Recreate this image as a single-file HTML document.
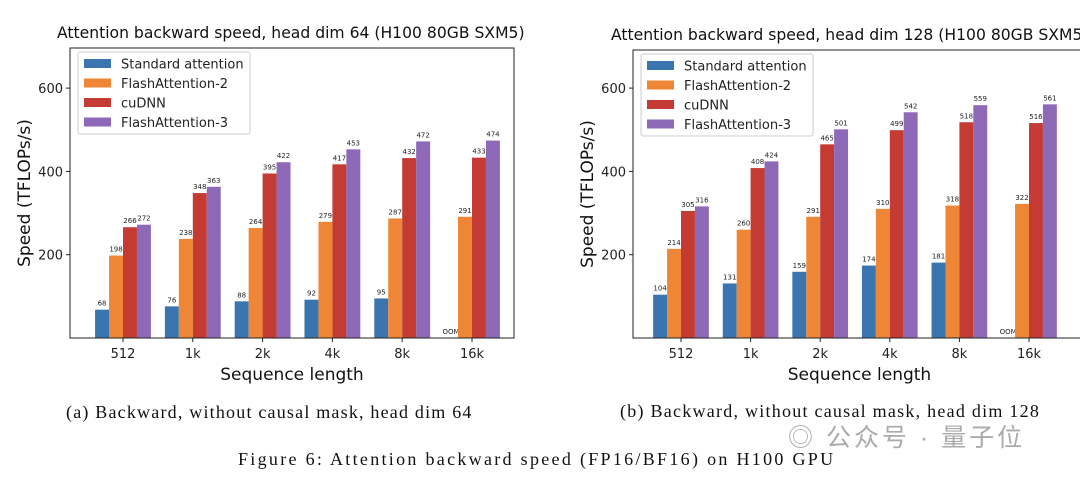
<!DOCTYPE html>
<html><head><meta charset="utf-8"><style>
body{margin:0;background:#fff;width:1080px;height:478px;overflow:hidden;font-family:"DejaVu Sans","Liberation Sans",sans-serif}
svg{position:absolute;left:0;top:0}
.cap{position:absolute;font-family:"Liberation Serif",serif;font-size:18px;color:#111;white-space:nowrap}
</style></head><body>
<svg id="chart" width="1080" height="478"></svg>
<div class="cap" style="left:66px;top:402px;letter-spacing:1.2px">(a) Backward, without causal mask, head dim 64</div>
<div class="cap" style="left:620px;top:401px;letter-spacing:1.25px">(b) Backward, without causal mask, head dim 128</div>
<div class="cap" style="left:238px;top:449px;letter-spacing:2.3px">Figure 6: Attention backward speed (FP16/BF16) on H100 GPU</div>
<div style="position:absolute;left:788px;top:418px;font-family:'Liberation Sans','Noto Sans CJK SC',sans-serif;font-size:25px;letter-spacing:3px;color:#aaa">◎ 公众号 · 量子位</div>
<script>
const categories=["512","1k","2k","4k","8k","16k"];
const seriesNames=["Standard attention","FlashAttention-2","cuDNN","FlashAttention-3"];
const colors=["#3a75af","#ef8636","#c43b33","#8d69b8"];
const std64=[68,76,88,92,95,null];
const fa2_64=[198,238,264,279,287,291];
const cudnn64=[266,348,395,417,432,433];
const fa3_64=[272,363,422,453,472,474];
const std128=[104,131,159,174,181,null];
const fa2_128=[214,260,291,310,318,322];
const cudnn128=[305,408,465,499,518,516];
const fa3_128=[316,424,501,542,559,561];
const yTicks=[200,400,600];
const NS="http://www.w3.org/2000/svg";
const svg=document.getElementById('chart');
function mk(tag,attrs,parent){const e=document.createElementNS(NS,tag);for(const k in attrs)e.setAttribute(k,attrs[k]);(parent||svg).appendChild(e);return e;}
function panel(cfg){
  const g=mk('g',{});
  
  
  const y=v=>cfg.bottom-(v/200)*cfg.pxPer200;
  const cx=i=>cfg.firstCenter+i*cfg.spacing;
  const bw=cfg.spacing*0.2;
  cfg.data.forEach((arr,s)=>{
    arr.forEach((v,i)=>{
      const x=cx(i)-2*bw+s*bw;
      if(v===null){
        const t=mk('text',{x:x+bw/2,y:cfg.bottom-4,'font-size':7,'text-anchor':'middle',fill:'#222'},g);t.textContent='OOM';
        
        return;}
      const r=mk('rect',{x:x,y:y(v),width:bw,height:cfg.bottom-y(v),fill:colors[s]},g);
      
      
      const t=mk('text',{x:x+bw/2,y:y(v)-4,'font-size':7,'text-anchor':'middle',fill:'#222'},g);t.textContent=v;
      
    });
  });
  const box=mk('rect',{x:cfg.left,y:cfg.top,width:cfg.right-cfg.left,height:cfg.bottom-cfg.top,fill:'none',stroke:'#222','stroke-width':1},g);
  
  yTicks.forEach(v=>{
    mk('line',{x1:cfg.left-4,x2:cfg.left,y1:y(v),y2:y(v),stroke:'#222'},g);
    const t=mk('text',{x:cfg.left-7,y:y(v)+5,'font-size':13,'text-anchor':'end',fill:'#222'},g);t.textContent=v;
    
  });
  categories.forEach((c,i)=>{
    mk('line',{x1:cx(i),x2:cx(i),y1:cfg.bottom,y2:cfg.bottom+4,stroke:'#222'},g);
    const t=mk('text',{x:cx(i),y:cfg.bottom+20,'font-size':13,'text-anchor':'middle',fill:'#222'},g);t.textContent=c;
    
  });
  const xt=mk('text',{x:(cfg.left+cfg.right)/2,y:cfg.bottom+42,'font-size':17,'text-anchor':'middle',fill:'#111'},g);xt.textContent='Sequence length';
  
  const yc=(cfg.top+cfg.bottom)/2;
  const yt=mk('text',{x:cfg.left-40,y:yc,'font-size':17,'text-anchor':'middle',fill:'#111',transform:`rotate(-90 ${cfg.left-40} ${yc})`},g);yt.textContent='Speed (TFLOPs/s)';
  
  const tt=mk('text',{x:cfg.titleX,y:cfg.top-10,'font-size':15.6,fill:'#111'},g);tt.textContent=cfg.title;
  
  const lx=cfg.left+8,ly=cfg.top+4;
  const lg=mk('rect',{x:lx,y:ly,width:172,height:82,fill:'#fff',stroke:'#ccc',rx:2},g);
  
  seriesNames.forEach((n,s)=>{
    mk('rect',{x:lx+6,y:ly+7+s*19.5,width:27,height:9,fill:colors[s]},g);
    const t=mk('text',{x:lx+43,y:ly+16.5+s*19.5,'font-size':13,fill:'#222'},g);t.textContent=n;
    
  });
}
panel({name:'chart-head-dim-64',left:70,right:514,top:48,bottom:338,pxPer200:83.3,firstCenter:123,spacing:69.8,titleX:57,
  title:'Attention backward speed, head dim 64 (H100 80GB SXM5)',data:[std64,fa2_64,cudnn64,fa3_64]});
panel({name:'chart-head-dim-128',left:633,right:1086,top:50,bottom:338,pxPer200:83.3,firstCenter:681,spacing:69.6,titleX:611,
  title:'Attention backward speed, head dim 128 (H100 80GB SXM5)',data:[std128,fa2_128,cudnn128,fa3_128]});
</script>
</body></html>
